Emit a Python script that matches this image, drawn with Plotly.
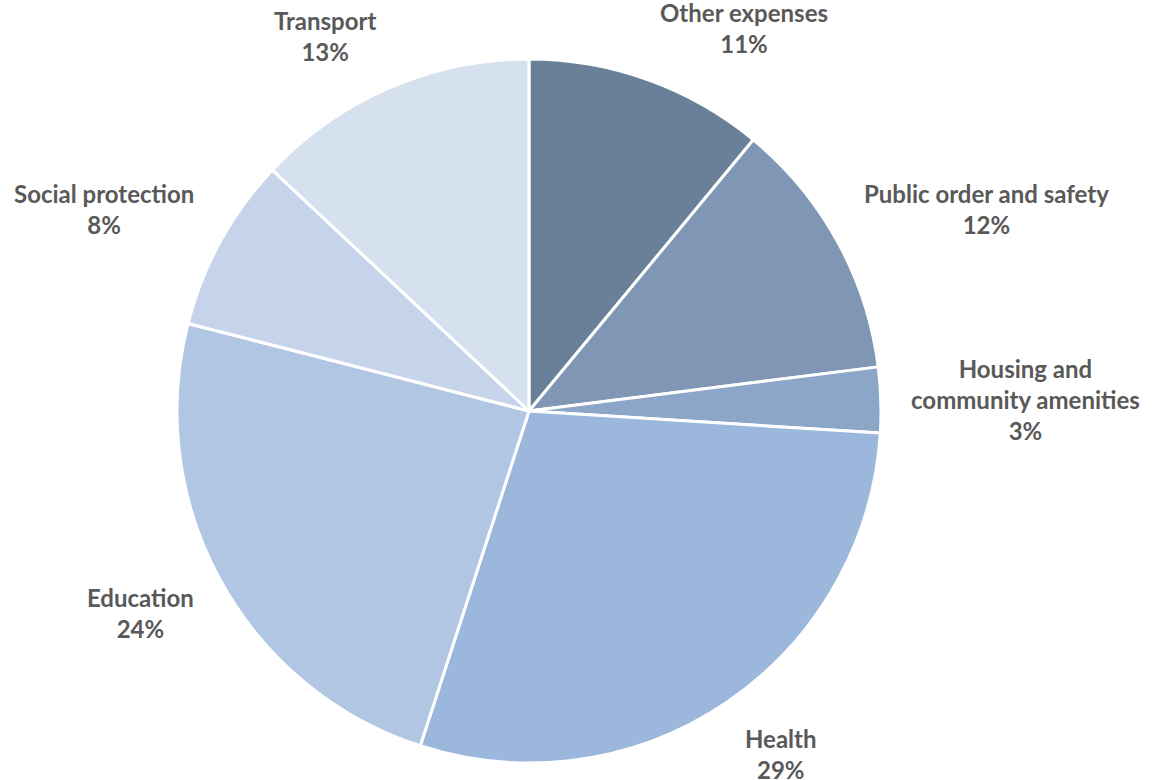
import math
import plotly.graph_objects as go

categories = ["Other expenses", "Public order and safety", "Housing and<br>community amenities",
              "Health", "Education", "Social protection", "Transport"]
values = [11, 12, 3, 29, 24, 8, 13]
colors = ["#6A8099", "#7F96B5", "#8CA6C7", "#9BB7DB", "#B0C6E3", "#C5D4EA", "#D6E1EF"]

W, H = 1153, 780
cx, cy, R = 529, 411, 352

fig = go.Figure(go.Pie(
    labels=categories, values=values, sort=False, direction="clockwise", rotation=0,
    marker=dict(colors=colors, line=dict(color="white", width=3)),
    textinfo="none", hoverinfo="label+percent",
    domain=dict(x=[(cx - R) / W, (cx + R) / W], y=[1 - (cy + R) / H, 1 - (cy - R) / H]),
))

total = sum(values)
cum = 0
annotations = []
gx, gy = 28, 20
for lab, v in zip(categories, values):
    mid = (cum + v / 2) / total * 2 * math.pi
    cum += v
    s, c = math.sin(mid), math.cos(mid)
    px = cx + (R + gx) * s
    py = cy - R * c
    if c > 0.6:
        py -= gy
    elif c < -0.6:
        py += gy
    xa = "left" if s > 0.15 else ("right" if s < -0.15 else "center")
    ya = "bottom" if c > 0.3 else ("top" if c < -0.3 else "middle")
    pct = round(v / total * 100)
    annotations.append(dict(
        x=px / W, y=1 - py / H, xref="paper", yref="paper",
        text=f"<b>{lab}<br>{pct}%</b>", showarrow=False,
        xanchor=xa, yanchor=ya, align="center",
        font=dict(family="Lato", size=24, color="#595959"),
    ))

fig.update_layout(
    width=W, height=H, margin=dict(l=0, r=0, t=0, b=0),
    paper_bgcolor="white", plot_bgcolor="white", showlegend=False,
    annotations=annotations,
)
fig.write_html("out.html", config={"displayModeBar": False},
               post_script="document.body.style.margin='0';document.body.style.overflow='hidden';")
